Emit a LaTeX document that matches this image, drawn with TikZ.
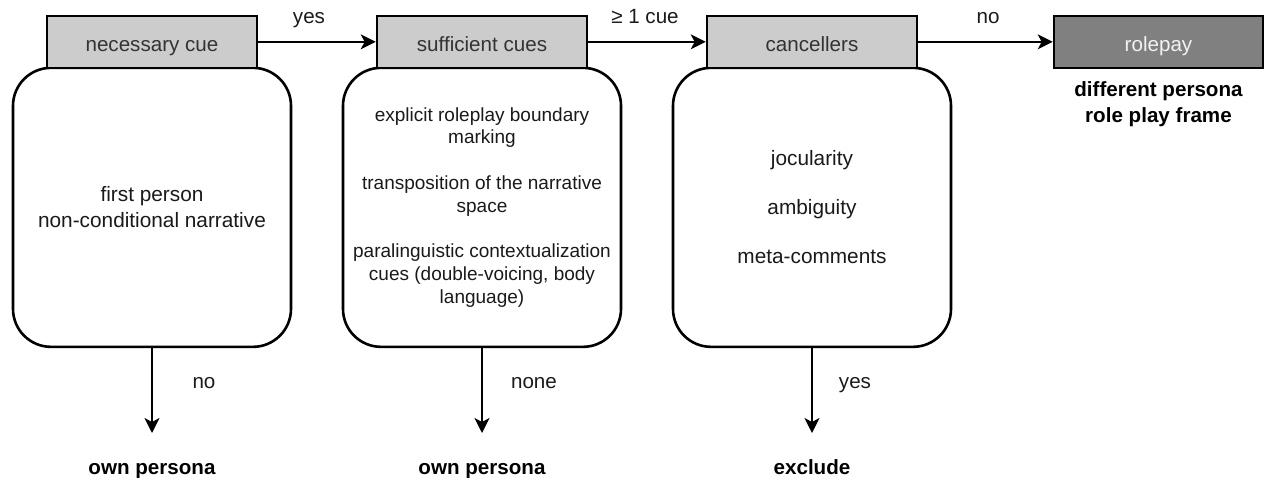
\documentclass[tikz,border=0pt]{standalone}
\usepackage{fontspec}
\setmainfont{Liberation Sans}
\usetikzlibrary{arrows.meta}
\definecolor{hdrfill}{HTML}{CCCCCC}
\definecolor{hdrtext}{HTML}{333333}
\definecolor{endfill}{HTML}{808080}
\definecolor{endtext}{HTML}{F2F2F2}
\definecolor{txt}{HTML}{1A1A1A}
\begin{document}
\begin{tikzpicture}[x=1pt,y=-1pt,
  header/.style={draw=black, line width=2.6pt, fill=hdrfill, text=hdrtext,
    minimum width=210pt, minimum height=52pt, inner sep=0pt,
    font=\fontsize{20.6}{24}\selectfont, text height=19.5pt, text depth=0pt},
  endbox/.style={header, fill=endfill, text=endtext},
  body/.style={draw=black, line width=2.6pt, fill=white, rounded corners=38pt,
    minimum width=278pt, minimum height=279pt, align=center, inner sep=0pt,
    text=txt, font=\fontsize{20.8}{25.6}\selectfont},
  arr/.style={-{Stealth[length=15pt,width=15pt,inset=4pt]}, line width=1.4pt},
  lbl/.style={anchor=base, font=\fontsize{20.6}{24}\selectfont, inner sep=0pt, text=txt},
  res/.style={font=\bfseries\fontsize{20.6}{25.6}\selectfont, inner sep=0pt, align=center, text=black},
]
\useasboundingbox (0,0) rectangle (1264,478);

% body boxes
\node[body] (b1) at (152,207.35) {first person\\non-conditional narrative};
\node[body, font=\fontsize{19}{22.8}\selectfont] (b2) at (482,207.35)
  {explicit roleplay boundary\\marking\\[22.8pt]transposition of the narrative\\space\\[22.8pt]paralinguistic contextualization\\cues (double-voicing, body\\language)};
\node[body, font=\fontsize{20.8}{24.6}\selectfont] (b3) at (812,207.35)
  {jocularity\\[24.6pt]ambiguity\\[24.6pt]meta-comments};

% headers
\node[header] (h1) at (152,41.85) {necessary cue};
\node[header] (h2) at (482,41.85) {sufficient cues};
\node[header] (h3) at (812,41.85) {cancellers};
\node[endbox, minimum width=209pt] (h4) at (1158.5,41.85) {rolepay};

% horizontal connectors
\draw[arr] (h1.east) -- (h2.west);
\draw[arr] (h2.east) -- (h3.west);
\draw[arr] (h3.east) -- (h4.west);
\node[lbl] (l1) at (309,24) {yes};
\node[lbl] (l2) at (645,24) {≥ 1 cue};
\node[lbl] (l3) at (988,24) {no};

% result for rolepay
\node[res] (r4) at (1158.5,104.2) {different persona\\role play frame};

% downward connectors
\coordinate (e1) at (152,433);
\coordinate (e2) at (482,433);
\coordinate (e3) at (812,433);
\draw[arr] (b1.south) -- (e1);
\draw[arr] (b2.south) -- (e2);
\draw[arr] (b3.south) -- (e3);
\node[lbl] (d1) at (204,388.3) {no};
\node[lbl] (d2) at (534,388.3) {none};
\node[lbl] (d3) at (855,388.3) {yes};

\node[res, anchor=base] (r1) at (152,474) {own persona};
\node[res, anchor=base] (r2) at (482,474) {own persona};
\node[res, anchor=base] (r3) at (812,474) {exclude};
\end{tikzpicture}
\end{document}
